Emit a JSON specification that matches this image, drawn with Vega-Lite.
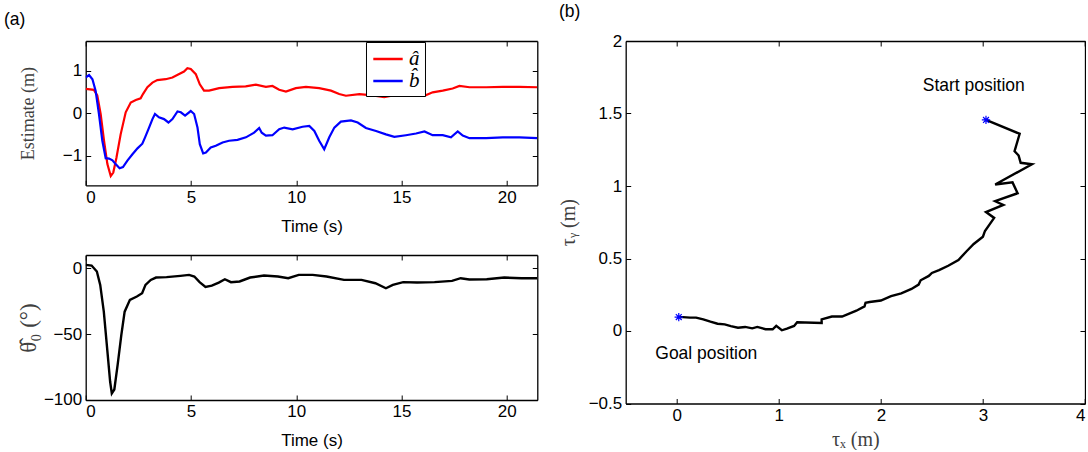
{
  "$schema": "https://vega.github.io/schema/vega-lite/v6.json",
  "background": "white",
  "padding": {"left": 3.7, "top": 2, "right": 0, "bottom": 0},
  "datasets": {
    "est": [
      {"t":0,"v":0.57,"s":"â"},{"t":0.39,"v":0.55,"s":"â"},{"t":0.55,"v":0.42,"s":"â"},{"t":0.71,"v":-0.02,"s":"â"},{"t":0.87,"v":-0.65,"s":"â"},{"t":1.03,"v":-1.2,"s":"â"},{"t":1.19,"v":-1.48,"s":"â"},{"t":1.31,"v":-1.4,"s":"â"},{"t":1.46,"v":-1.05,"s":"â"},{"t":1.66,"v":-0.5,"s":"â"},{"t":1.9,"v":0.02,"s":"â"},{"t":2.14,"v":0.25,"s":"â"},{"t":2.38,"v":0.31,"s":"â"},{"t":2.61,"v":0.35,"s":"â"},{"t":2.72,"v":0.45,"s":"â"},{"t":2.93,"v":0.61,"s":"â"},{"t":3.17,"v":0.72,"s":"â"},{"t":3.4,"v":0.78,"s":"â"},{"t":3.8,"v":0.8,"s":"â"},{"t":4.12,"v":0.84,"s":"â"},{"t":4.44,"v":0.92,"s":"â"},{"t":4.67,"v":0.98,"s":"â"},{"t":4.83,"v":1.06,"s":"â"},{"t":4.99,"v":1.04,"s":"â"},{"t":5.23,"v":0.92,"s":"â"},{"t":5.42,"v":0.68,"s":"â"},{"t":5.62,"v":0.53,"s":"â"},{"t":5.86,"v":0.53,"s":"â"},{"t":6.34,"v":0.59,"s":"â"},{"t":6.97,"v":0.62,"s":"â"},{"t":7.6,"v":0.63,"s":"â"},{"t":8.08,"v":0.67,"s":"â"},{"t":8.56,"v":0.62,"s":"â"},{"t":8.87,"v":0.64,"s":"â"},{"t":9.19,"v":0.55,"s":"â"},{"t":9.51,"v":0.51,"s":"â"},{"t":9.98,"v":0.59,"s":"â"},{"t":10.46,"v":0.62,"s":"â"},{"t":11.09,"v":0.59,"s":"â"},{"t":11.65,"v":0.53,"s":"â"},{"t":12.04,"v":0.45,"s":"â"},{"t":12.36,"v":0.41,"s":"â"},{"t":13.0,"v":0.45,"s":"â"},{"t":13.63,"v":0.42,"s":"â"},{"t":14.18,"v":0.38,"s":"â"},{"t":14.9,"v":0.45,"s":"â"},{"t":15.53,"v":0.49,"s":"â"},{"t":16.09,"v":0.41,"s":"â"},{"t":16.48,"v":0.49,"s":"â"},{"t":16.96,"v":0.53,"s":"â"},{"t":17.43,"v":0.58,"s":"â"},{"t":17.75,"v":0.64,"s":"â"},{"t":18.23,"v":0.61,"s":"â"},{"t":19.02,"v":0.61,"s":"â"},{"t":19.81,"v":0.62,"s":"â"},{"t":20.6,"v":0.62,"s":"â"},{"t":21.45,"v":0.61,"s":"â"},
      {"t":0,"v":0.84,"s":"b̂"},{"t":0.16,"v":0.9,"s":"b̂"},{"t":0.32,"v":0.8,"s":"b̂"},{"t":0.47,"v":0.53,"s":"b̂"},{"t":0.63,"v":-0.02,"s":"b̂"},{"t":0.79,"v":-0.65,"s":"b̂"},{"t":0.95,"v":-1.06,"s":"b̂"},{"t":1.11,"v":-1.07,"s":"b̂"},{"t":1.27,"v":-1.11,"s":"b̂"},{"t":1.42,"v":-1.2,"s":"b̂"},{"t":1.61,"v":-1.3,"s":"b̂"},{"t":1.77,"v":-1.27,"s":"b̂"},{"t":1.98,"v":-1.12,"s":"b̂"},{"t":2.22,"v":-0.97,"s":"b̂"},{"t":2.46,"v":-0.83,"s":"b̂"},{"t":2.69,"v":-0.72,"s":"b̂"},{"t":2.82,"v":-0.57,"s":"b̂"},{"t":3.01,"v":-0.34,"s":"b̂"},{"t":3.17,"v":-0.14,"s":"b̂"},{"t":3.29,"v":-0.02,"s":"b̂"},{"t":3.48,"v":-0.1,"s":"b̂"},{"t":3.72,"v":-0.14,"s":"b̂"},{"t":3.93,"v":-0.22,"s":"b̂"},{"t":4.12,"v":-0.14,"s":"b̂"},{"t":4.36,"v":0.04,"s":"b̂"},{"t":4.52,"v":0.02,"s":"b̂"},{"t":4.72,"v":-0.06,"s":"b̂"},{"t":4.99,"v":0.05,"s":"b̂"},{"t":5.15,"v":-0.02,"s":"b̂"},{"t":5.31,"v":-0.34,"s":"b̂"},{"t":5.42,"v":-0.73,"s":"b̂"},{"t":5.58,"v":-0.95,"s":"b̂"},{"t":5.71,"v":-0.93,"s":"b̂"},{"t":5.94,"v":-0.81,"s":"b̂"},{"t":6.18,"v":-0.77,"s":"b̂"},{"t":6.5,"v":-0.69,"s":"b̂"},{"t":6.81,"v":-0.65,"s":"b̂"},{"t":7.21,"v":-0.63,"s":"b̂"},{"t":7.61,"v":-0.57,"s":"b̂"},{"t":8.0,"v":-0.46,"s":"b̂"},{"t":8.24,"v":-0.35,"s":"b̂"},{"t":8.36,"v":-0.46,"s":"b̂"},{"t":8.56,"v":-0.53,"s":"b̂"},{"t":8.87,"v":-0.52,"s":"b̂"},{"t":9.19,"v":-0.38,"s":"b̂"},{"t":9.43,"v":-0.34,"s":"b̂"},{"t":9.83,"v":-0.38,"s":"b̂"},{"t":10.3,"v":-0.32,"s":"b̂"},{"t":10.62,"v":-0.3,"s":"b̂"},{"t":10.86,"v":-0.42,"s":"b̂"},{"t":11.09,"v":-0.65,"s":"b̂"},{"t":11.33,"v":-0.85,"s":"b̂"},{"t":11.57,"v":-0.57,"s":"b̂"},{"t":11.81,"v":-0.34,"s":"b̂"},{"t":12.12,"v":-0.2,"s":"b̂"},{"t":12.6,"v":-0.17,"s":"b̂"},{"t":12.92,"v":-0.22,"s":"b̂"},{"t":13.31,"v":-0.35,"s":"b̂"},{"t":13.79,"v":-0.42,"s":"b̂"},{"t":14.26,"v":-0.5,"s":"b̂"},{"t":14.66,"v":-0.56,"s":"b̂"},{"t":15.21,"v":-0.52,"s":"b̂"},{"t":15.69,"v":-0.48,"s":"b̂"},{"t":16.09,"v":-0.43,"s":"b̂"},{"t":16.48,"v":-0.52,"s":"b̂"},{"t":16.96,"v":-0.52,"s":"b̂"},{"t":17.35,"v":-0.57,"s":"b̂"},{"t":17.67,"v":-0.43,"s":"b̂"},{"t":17.91,"v":-0.53,"s":"b̂"},{"t":18.23,"v":-0.59,"s":"b̂"},{"t":19.02,"v":-0.59,"s":"b̂"},{"t":19.81,"v":-0.57,"s":"b̂"},{"t":20.6,"v":-0.57,"s":"b̂"},{"t":21.45,"v":-0.59,"s":"b̂"}
    ],
    "theta": [
      {"t":0,"v":2.5},{"t":0.28,"v":2},{"t":0.53,"v":-2.5},{"t":0.69,"v":-12.7},{"t":0.86,"v":-33},{"t":1.03,"v":-63},{"t":1.16,"v":-86},{"t":1.24,"v":-95},{"t":1.36,"v":-92},{"t":1.52,"v":-73},{"t":1.69,"v":-51},{"t":1.85,"v":-33},{"t":2.1,"v":-24},{"t":2.43,"v":-21.5},{"t":2.68,"v":-19},{"t":2.84,"v":-12.7},{"t":3.09,"v":-8.9},{"t":3.34,"v":-7.1},{"t":3.84,"v":-6.8},{"t":4.5,"v":-5.8},{"t":4.91,"v":-5.1},{"t":5.16,"v":-6.3},{"t":5.41,"v":-10.6},{"t":5.69,"v":-14.2},{"t":5.99,"v":-13.2},{"t":6.32,"v":-10.9},{"t":6.61,"v":-8.4},{"t":6.9,"v":-10.6},{"t":7.31,"v":-10.1},{"t":7.81,"v":-7.1},{"t":8.47,"v":-5.6},{"t":9.13,"v":-6.3},{"t":9.62,"v":-7.6},{"t":10.12,"v":-5.1},{"t":10.78,"v":-5.1},{"t":11.44,"v":-6.3},{"t":12.27,"v":-8.9},{"t":13.1,"v":-8.9},{"t":13.76,"v":-11.4},{"t":14.26,"v":-15.2},{"t":14.59,"v":-12.7},{"t":15.08,"v":-10.6},{"t":15.74,"v":-10.9},{"t":16.57,"v":-10.6},{"t":17.4,"v":-9.6},{"t":17.81,"v":-7.6},{"t":18.22,"v":-8.6},{"t":19.05,"v":-8.4},{"t":19.88,"v":-7.1},{"t":20.7,"v":-7.6},{"t":21.45,"v":-7.6}
    ],
    "traj": [
      {"i":0,"x":3.03,"y":1.456},{"i":1,"x":3.36,"y":1.36},{"i":2,"x":3.31,"y":1.24},{"i":3,"x":3.35,"y":1.21},{"i":4,"x":3.37,"y":1.16},{"i":5,"x":3.48,"y":1.15},{"i":6,"x":3.12,"y":1.01},{"i":7,"x":3.29,"y":1.025},{"i":8,"x":3.34,"y":0.95},{"i":9,"x":3.12,"y":0.895},{"i":10,"x":3.2,"y":0.87},{"i":11,"x":3.03,"y":0.82},{"i":12,"x":3.11,"y":0.78},{"i":13,"x":3.02,"y":0.69},{"i":14,"x":3.0,"y":0.65},{"i":15,"x":2.91,"y":0.6},{"i":16,"x":2.84,"y":0.55},{"i":17,"x":2.76,"y":0.49},{"i":18,"x":2.66,"y":0.45},{"i":19,"x":2.57,"y":0.42},{"i":20,"x":2.5,"y":0.4},{"i":21,"x":2.47,"y":0.38},{"i":22,"x":2.39,"y":0.35},{"i":23,"x":2.37,"y":0.32},{"i":24,"x":2.3,"y":0.29},{"i":25,"x":2.2,"y":0.26},{"i":26,"x":2.1,"y":0.24},{"i":27,"x":2.0,"y":0.21},{"i":28,"x":1.89,"y":0.2},{"i":29,"x":1.85,"y":0.195},{"i":30,"x":1.84,"y":0.17},{"i":31,"x":1.76,"y":0.14},{"i":32,"x":1.69,"y":0.12},{"i":33,"x":1.62,"y":0.1},{"i":34,"x":1.52,"y":0.1},{"i":35,"x":1.42,"y":0.08},{"i":36,"x":1.42,"y":0.055},{"i":37,"x":1.18,"y":0.06},{"i":38,"x":1.15,"y":0.035},{"i":39,"x":1.08,"y":0.016},{"i":40,"x":1.03,"y":0.005},{"i":41,"x":0.975,"y":0.035},{"i":42,"x":0.94,"y":0.012},{"i":43,"x":0.87,"y":0.012},{"i":44,"x":0.79,"y":0.028},{"i":45,"x":0.74,"y":0.018},{"i":46,"x":0.67,"y":0.028},{"i":47,"x":0.6,"y":0.023},{"i":48,"x":0.53,"y":0.034},{"i":49,"x":0.47,"y":0.046},{"i":50,"x":0.4,"y":0.05},{"i":51,"x":0.33,"y":0.064},{"i":52,"x":0.26,"y":0.08},{"i":53,"x":0.19,"y":0.092},{"i":54,"x":0.13,"y":0.092},{"i":55,"x":0.06,"y":0.096},{"i":56,"x":0.02,"y":0.096}
    ],
    "pts": [{"x":3.03,"y":1.456},{"x":0.02,"y":0.096}],
    "labels": [{"x":2.91,"y":1.69,"label":"Start position"},{"x":0.29,"y":-0.16,"label":"Goal position"}]
  },
  "config": {
    "view": {"stroke": null},
    "axis": {"grid": false, "domainColor": "black", "domainWidth": 1.3, "tickColor": "black", "tickSize": -5, "tickWidth": 1, "labelFont": "Liberation Sans", "labelFontSize": 17, "labelColor": "black", "labelPadding": 9, "titleFont": "Liberation Serif", "titleFontWeight": "normal", "titleColor": "#404040", "titleFontSize": 18},
    "title": {"font": "Liberation Sans", "fontSize": 17.5, "fontWeight": "normal", "color": "black", "anchor": "start", "frame": "group", "baseline": "alphabetic"}
  },
  "spacing": 18,
  "hconcat": [
    {
      "spacing": 69,
      "bounds": "flush",
      "vconcat": [
        {
          "width": 451.6, "height": 144.3,
          "title": {"text": "(a)", "dx": -81.7, "offset": 12},
          "data": {"name": "est"},
          "layer": [
            {
              "mark": {"type": "line", "strokeWidth": 2.2, "clip": true},
              "encoding": {
                "x": {"field": "t", "type": "quantitative", "scale": {"domain": [0, 21.45], "nice": false, "zero": false},
                      "axis": {"values": [0,5,10,15,20], "title": "Time (s)", "titleFont": "Liberation Sans", "titleColor": "black", "titleFontSize": 17, "titleY": 41, "titleBaseline": "middle"}},
                "y": {"field": "v", "type": "quantitative", "scale": {"domain": [-1.7, 1.7], "nice": false, "zero": false},
                      "axis": {"values": [-1,0,1], "title": "Estimate (m)", "titleX": -57, "titleBaseline": "middle"}},
                "color": {"field": "s", "type": "nominal", "scale": {"domain": ["â","b̂"], "range": ["#ff0000","#0000ff"]},
                          "legend": {"title": null, "orient": "none", "legendX": 280.3, "legendY": 1, "symbolType": "M-1.4,0L1.4,0", "symbolSize": 441, "symbolStrokeWidth": 2.5, "symbolOffset": 5, "labelFont": "Liberation Serif", "labelFontSize": 21, "labelFontStyle": "italic", "labelColor": "black", "strokeColor": "black", "fillColor": "white", "padding": 5, "rowPadding": 0, "labelOffset": 9}}
              }
            },
            {
              "mark": {"type": "point", "opacity": 0},
              "encoding": {
                "x": {"field": "t", "type": "quantitative", "axis": {"orient": "top", "values": [0,5,10,15,20], "labels": false, "title": null}},
                "y": {"field": "v", "type": "quantitative", "axis": {"orient": "right", "values": [-1,0,1], "labels": false, "title": null}}
              }
            }
          ],
          "resolve": {"axis": {"x": "independent", "y": "independent"}}
        },
        {
          "width": 451.6, "height": 145,
          "data": {"name": "theta"},
          "layer": [
            {
              "mark": {"type": "line", "strokeWidth": 2.4, "color": "black", "clip": true},
              "encoding": {
                "x": {"field": "t", "type": "quantitative", "scale": {"domain": [0, 21.45], "nice": false, "zero": false},
                      "axis": {"values": [0,5,10,15,20], "title": "Time (s)", "titleFont": "Liberation Sans", "titleColor": "black", "titleFontSize": 17, "titleY": 41, "titleBaseline": "middle"}},
                "y": {"field": "v", "type": "quantitative", "scale": {"domain": [-100, 10], "nice": false, "zero": false},
                      "axis": {"values": [-100,-50,0], "title": "θ̂₀ (°)", "titleFontSize": 23, "titleX": -57, "titleBaseline": "middle"}}
              }
            },
            {
              "mark": {"type": "point", "opacity": 0},
              "encoding": {
                "x": {"field": "t", "type": "quantitative", "axis": {"orient": "top", "values": [0,5,10,15,20], "labels": false, "title": null}},
                "y": {"field": "v", "type": "quantitative", "axis": {"orient": "right", "values": [-100,-50,0], "labels": false, "title": null}}
              }
            }
          ],
          "resolve": {"axis": {"x": "independent", "y": "independent"}}
        }
      ]
    },
    {
      "width": 459.3, "height": 362.5,
      "title": {"text": "(b)", "dx": -66.7, "offset": 12},
      "layer": [
        {
          "data": {"name": "traj"},
          "mark": {"type": "line", "strokeWidth": 2.4, "color": "black"},
          "encoding": {
            "x": {"field": "x", "type": "quantitative", "scale": {"domain": [-0.5, 4], "nice": false, "zero": false},
                  "axis": {"values": [0,1,2,3,4], "format": "~g", "labelFlush": true, "title": "τₓ (m)", "titleFontSize": 20, "titleY": 36, "titleBaseline": "middle"}},
            "y": {"field": "y", "type": "quantitative", "scale": {"domain": [-0.5, 2], "nice": false, "zero": false},
                  "axis": {"values": [-0.5,0,0.5,1,1.5,2], "format": "~g", "title": "τᵧ (m)", "titleFontSize": 20, "titleX": -57, "titleBaseline": "middle"}},
            "order": {"field": "i", "type": "quantitative"}
          }
        },
        {
          "data": {"name": "pts"},
          "mark": {"type": "point", "shape": "M-1,0L1,0M0,-1L0,1M-0.7,-0.7L0.7,0.7M-0.7,0.7L0.7,-0.7", "filled": false, "color": "#0000ff", "size": 70, "strokeWidth": 1.2, "opacity": 1},
          "encoding": {
            "x": {"field": "x", "type": "quantitative", "axis": null},
            "y": {"field": "y", "type": "quantitative", "axis": null}
          }
        },
        {
          "data": {"name": "labels"},
          "mark": {"type": "text", "font": "Liberation Sans", "fontSize": 17.5, "color": "black", "align": "center", "baseline": "middle"},
          "encoding": {
            "x": {"field": "x", "type": "quantitative", "axis": null},
            "y": {"field": "y", "type": "quantitative", "axis": null},
            "text": {"field": "label"}
          }
        },
        {
          "data": {"name": "pts"},
          "mark": {"type": "point", "opacity": 0},
          "encoding": {
            "x": {"field": "x", "type": "quantitative", "axis": {"orient": "top", "values": [0,1,2,3,4], "labels": false, "title": null}},
            "y": {"field": "y", "type": "quantitative", "axis": {"orient": "right", "values": [-0.5,0,0.5,1,1.5,2], "labels": false, "title": null}}
          }
        }
      ],
      "resolve": {"axis": {"x": "independent", "y": "independent"}}
    }
  ]
}
